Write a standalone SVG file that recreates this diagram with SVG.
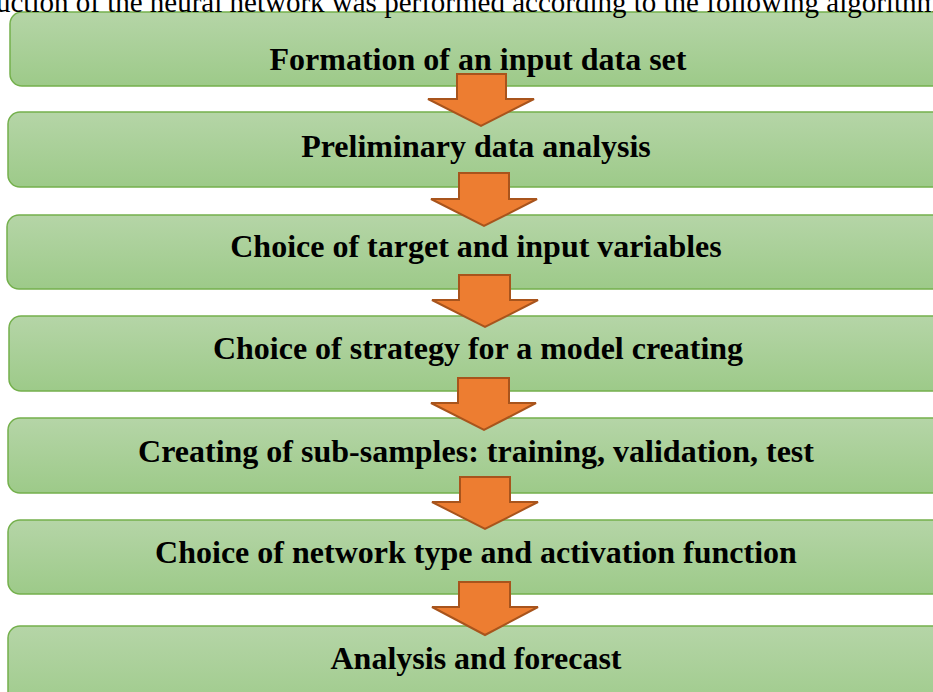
<svg xmlns="http://www.w3.org/2000/svg" width="933" height="692" viewBox="0 0 933 692">
<defs>
<linearGradient id="g" x1="0" y1="0" x2="0" y2="1">
<stop offset="0" stop-color="#b5d5a7"/>
<stop offset="1" stop-color="#9dca89"/>
</linearGradient>
<style>
.box{fill:url(#g);stroke:#74b04c;stroke-width:1.5}
.lbl{font-family:"Liberation Serif","Times New Roman",serif;font-weight:bold;font-size:32px;fill:#000;text-anchor:middle}
.cap{font-family:"Liberation Serif","Times New Roman",serif;font-size:29px;fill:#000}
.arr{fill:#ed7d31;stroke:#a8541c;stroke-width:2;stroke-linejoin:miter}
</style>
</defs>
<rect width="933" height="692" fill="#fff"/>
<g id="node1"><rect class="box" x="10" y="12" width="960" height="74" rx="12"/><text class="lbl" x="478" y="70">Formation of an input data set</text></g>
<g id="node2"><rect class="box" x="8" y="112" width="960" height="75" rx="12"/><text class="lbl" x="476" y="157">Preliminary data analysis</text></g>
<g id="node3"><rect class="box" x="7" y="215" width="960" height="74" rx="12"/><text class="lbl" x="476" y="257">Choice of target and input variables</text></g>
<g id="node4"><rect class="box" x="9" y="316" width="960" height="75" rx="12"/><text class="lbl" x="478" y="359">Choice of strategy for a model creating</text></g>
<g id="node5"><rect class="box" x="8" y="418" width="960" height="75" rx="12"/><text class="lbl" x="476" y="462">Creating of sub-samples: training, validation, test</text></g>
<g id="node6"><rect class="box" x="8" y="520" width="960" height="74" rx="12"/><text class="lbl" x="476" y="563">Choice of network type and activation function</text></g>
<g id="node7"><rect class="box" x="8" y="626" width="960" height="90" rx="12"/><text class="lbl" x="476" y="669">Analysis and forecast</text></g>
<text class="cap" x="-4" y="12">uction of the neural network was performed according to the following algorithm</text>
<g id="connectors">
<polygon class="arr" points="457,74 506,74 506,99 534,99 481,126 428,99 457,99"/>
<polygon class="arr" points="459,173 509,173 509,199 537,199 484,226 431,199 459,199"/>
<polygon class="arr" points="459,275 510,275 510,300 538,300 485,327 432,300 459,300"/>
<polygon class="arr" points="458,378 509,378 509,403 536,403 484,430 431,403 458,403"/>
<polygon class="arr" points="460,477 510,477 510,502 538,502 485,529 432,502 460,502"/>
<polygon class="arr" points="459,582 510,582 510,607 538,607 485,635 432,607 459,607"/>
</g>
</svg>
